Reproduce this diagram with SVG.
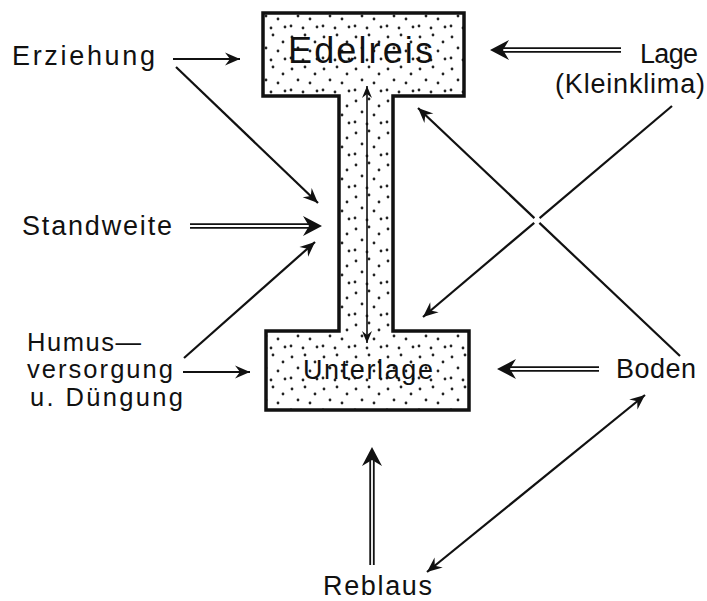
<svg xmlns="http://www.w3.org/2000/svg" xmlns:xlink="http://www.w3.org/1999/xlink" width="707" height="601" viewBox="0 0 707 601">
<style>
text{font-family:"Liberation Sans","DejaVu Sans",sans-serif;fill:#111;}
.lbl{font-size:27px;}
.sm{font-size:25.5px;}
.big{font-size:36px;}
.ln{stroke:#111;stroke-width:2.2;fill:none;}
.thin{stroke:#111;stroke-width:1.6;fill:none;}
.dbl{stroke:#111;stroke-width:1.8;fill:none;}
.shape{stroke:#111;stroke-width:3.5;stroke-linejoin:miter;}
</style>
<defs>
<pattern id="stip" width="32" height="32" patternUnits="userSpaceOnUse">
<g fill="#222">
<circle cx="4" cy="5" r="1.4"/><circle cx="17" cy="3" r="1.4"/><circle cx="27" cy="10" r="1.4"/>
<circle cx="10" cy="16" r="1.4"/><circle cx="22" cy="19" r="1.4"/><circle cx="3" cy="26" r="1.4"/>
<circle cx="15" cy="28" r="1.4"/><circle cx="29" cy="27" r="1.4"/>
</g>
</pattern>
<marker id="ah" markerUnits="userSpaceOnUse" viewBox="-16 -8 17 16" refX="0" refY="0" markerWidth="17" markerHeight="16" orient="auto-start-reverse">
<path d="M0,0 L-15,-6.5 L-10,0 L-15,6.5 Z" fill="#111"/>
</marker>
<marker id="ahs" markerUnits="userSpaceOnUse" viewBox="-13 -6 14 12" refX="0" refY="0" markerWidth="14" markerHeight="12" orient="auto-start-reverse">
<path d="M0,0 L-12,-5 L-8,0 L-12,5 Z" fill="#111"/>
</marker>
<path id="dh" d="M0,0 L-19,-10 L-13,0 L-19,10 Z" fill="#111"/>
</defs>
<rect width="707" height="601" fill="#fff"/>

<g id="plant">
<path class="shape" fill="url(#stip)" d="M263,13 H464 V96 H393 V331 H469 V410 H266 V331 H339 V96 H263 Z"/>
<line class="thin" x1="367" y1="86" x2="367" y2="343" marker-start="url(#ahs)" marker-end="url(#ahs)"/>
</g>
<g id="edelreis">
<text class="big" x="288" y="63" textLength="145" lengthAdjust="spacing">Edelreis</text>
</g>
<g id="unterlage">
<text class="lbl" x="303" y="379" textLength="130" lengthAdjust="spacing">Unterlage</text>
</g>

<g id="erziehung"><text class="lbl" x="12" y="65" textLength="143" lengthAdjust="spacing">Erziehung</text></g>
<g id="standweite"><text class="lbl" x="22" y="235" font-size="25" textLength="150" lengthAdjust="spacing">Standweite</text></g>
<g id="humus">
<text class="sm" x="27" y="351" textLength="114" lengthAdjust="spacing">Humus—</text>
<text class="sm" x="27" y="378" textLength="146" lengthAdjust="spacing">versorgung</text>
<text class="sm" x="30" y="406" textLength="153" lengthAdjust="spacing">u. Düngung</text>
</g>
<g id="lage">
<text class="lbl" x="640" y="63" textLength="58" lengthAdjust="spacing">Lage</text>
<text class="lbl" x="555" y="93" textLength="150" lengthAdjust="spacing">(Kleinklima)</text>
</g>
<g id="boden"><text class="lbl" x="616" y="378" textLength="80" lengthAdjust="spacing">Boden</text></g>
<g id="reblaus"><text class="lbl" x="323" y="595" font-size="26" textLength="109" lengthAdjust="spacing">Reblaus</text></g>

<g id="connectors">
<line class="ln" x1="173" y1="59" x2="240" y2="59" marker-end="url(#ah)"/>
<line class="ln" x1="176" y1="67" x2="318" y2="203" marker-end="url(#ah)"/>
<line class="ln" x1="184" y1="358" x2="315" y2="242" marker-end="url(#ah)"/>
<line class="ln" x1="183" y1="372" x2="250" y2="372" marker-end="url(#ah)"/>

<g id="dbl-standweite">
<line class="dbl" x1="190" y1="224.2" x2="311" y2="224.2"/>
<line class="dbl" x1="190" y1="227.8" x2="311" y2="227.8"/>
<use xlink:href="#dh" href="#dh" transform="translate(322,226)"/>
</g>
<g id="dbl-lage">
<line class="dbl" x1="621" y1="48.2" x2="501" y2="48.2"/>
<line class="dbl" x1="621" y1="51.8" x2="501" y2="51.8"/>
<use xlink:href="#dh" href="#dh" transform="translate(490,50) rotate(180)"/>
</g>
<g id="dbl-boden">
<line class="dbl" x1="599" y1="367.2" x2="508" y2="367.2"/>
<line class="dbl" x1="599" y1="370.8" x2="508" y2="370.8"/>
<use xlink:href="#dh" href="#dh" transform="translate(497,369) rotate(180)"/>
</g>
<g id="dbl-reblaus">
<line class="dbl" x1="370.2" y1="565" x2="370.2" y2="458"/>
<line class="dbl" x1="373.8" y1="565" x2="373.8" y2="458"/>
<use xlink:href="#dh" href="#dh" transform="translate(372,447) rotate(-90)"/>
</g>

<line class="ln" x1="672" y1="106" x2="539.6" y2="218.2"/>
<line class="ln" x1="534.2" y1="222.8" x2="423" y2="317" marker-end="url(#ah)"/>
<line class="ln" x1="534.4" y1="218.1" x2="418" y2="108" marker-end="url(#ah)"/>
<line class="ln" x1="539.4" y1="222.9" x2="680" y2="356"/>

<line class="ln" x1="427" y1="572" x2="645" y2="395" marker-start="url(#ah)" marker-end="url(#ah)"/>
</g>
</svg>
